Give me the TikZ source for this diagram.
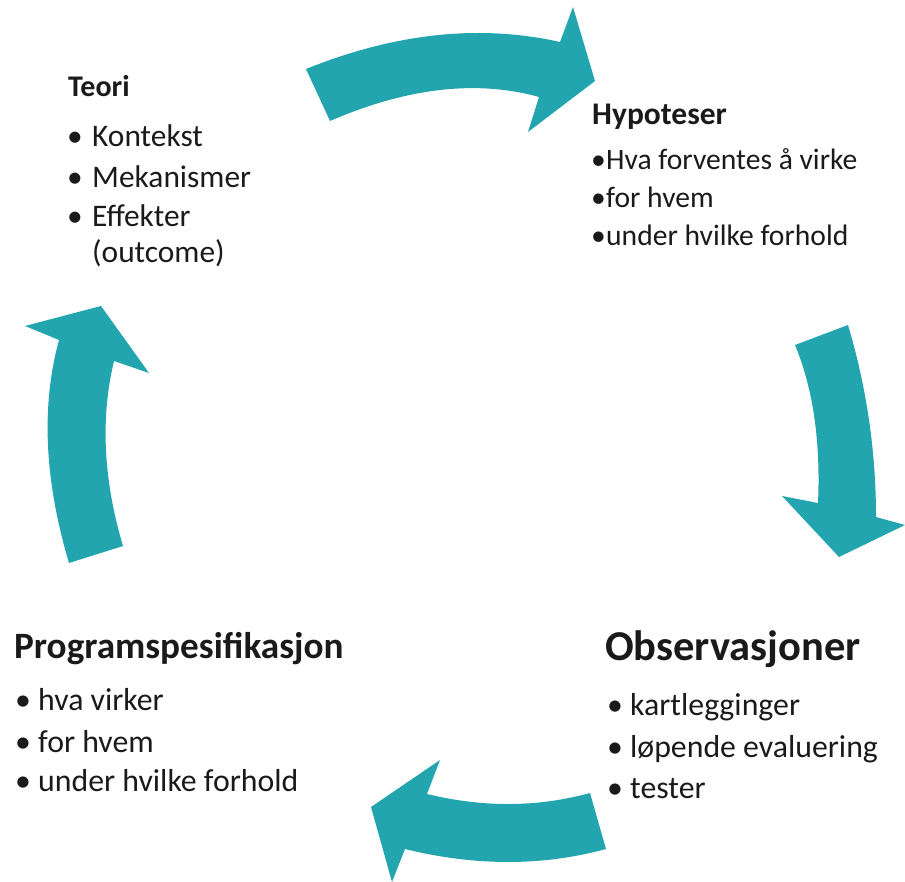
\documentclass[tikz,border=0pt]{standalone}
\usepackage{fontspec}
\setmainfont{Carlito}
\definecolor{tealarrow}{HTML}{22A5AF}
\definecolor{txt}{HTML}{1A1A1A}
\newcommand{\bul}[2]{\makebox[#1][l]{•}#2}
\begin{document}
\begin{tikzpicture}[x=1pt,y=-1pt,
  arrowshape/.style={fill=tealarrow,draw=none},
  ttl/.style={anchor=base west,inner sep=0pt,text=txt,font=\bfseries\fontsize{#1}{#1}\selectfont},
  itm/.style={anchor=base west,inner sep=0pt,text=txt,font=\fontsize{#1}{#1}\selectfont}]
\useasboundingbox (0,0) rectangle (905,882);

% top arrow
\fill[arrowshape] (306,69) .. controls (395.3,33) and (480,24) .. (560,42)
  -- (573,7) -- (595,81) -- (528,132) -- (539,97)
  .. controls (476.7,79.7) and (407,87.7) .. (330,121) -- cycle;
% right arrow
\fill[arrowshape] (795,345) -- (848,325)
  .. controls (866.7,387.7) and (876,451.7) .. (876,517)
  -- (905,525) -- (839,557) -- (782,496) -- (818,503)
  .. controls (820.7,441) and (813,388.3) .. (795,345) -- cycle;
% bottom arrow
\fill[arrowshape] (590,793) .. controls (537.7,807.3) and (483.3,807.7) .. (427,794)
  -- (440,760) -- (371,807) -- (392,882) -- (405,849)
  .. controls (475.3,866.3) and (542.3,866.3) .. (606,849) -- cycle;
% left arrow
\fill[arrowshape] (69,563) .. controls (44.3,480) and (41,405.7) .. (59,340)
  -- (25,326) -- (101,306) -- (149,373) -- (114,361)
  .. controls (100.3,418) and (103.3,479.7) .. (123,546) -- cycle;

% Teori
\node[ttl=30] (teori) at (68,97) {Teori};
\node[itm=31.4] (teori1) at (67,147) {\bul{25pt}{Kontekst}};
\node[itm=31.4] (teori2) at (67,188) {\bul{25pt}{Mekanismer}};
\node[itm=31.4] (teori3) at (67,227) {\bul{25pt}{Effekter}};
\node[itm=31.4] (teori4) at (92,263) {(outcome)};

% Hypoteser
\node[ttl=31.5] (hyp) at (592,125) {Hypoteser};
\node[itm=29.6] (hyp1) at (591,170) {\bul{15pt}{Hva forventes å virke}};
\node[itm=29.6] (hyp2) at (591,208) {\bul{15pt}{for hvem}};
\node[itm=29.6] (hyp3) at (591,246) {\bul{15pt}{under hvilke forhold}};

% Programspesifikasjon
\node[ttl=37.2] (prog) at (14,658) {Programspesifikasjon};
\node[itm=31.8] (prog1) at (15,710) {\bul{23pt}{hva virker}};
\node[itm=31.8] (prog2) at (15,752) {\bul{23pt}{for hvem}};
\node[itm=31.8] (prog3) at (15,791) {\bul{23pt}{under hvilke forhold}};

% Observasjoner
\node[ttl=42.5] (obs) at (605,660) {Observasjoner};
\node[itm=31.8] (obs1) at (607,715) {\bul{23pt}{kartlegginger}};
\node[itm=31.8] (obs2) at (607,757) {\bul{23pt}{løpende evaluering}};
\node[itm=31.8] (obs3) at (607,798) {\bul{23pt}{tester}};
\end{tikzpicture}
\end{document}
